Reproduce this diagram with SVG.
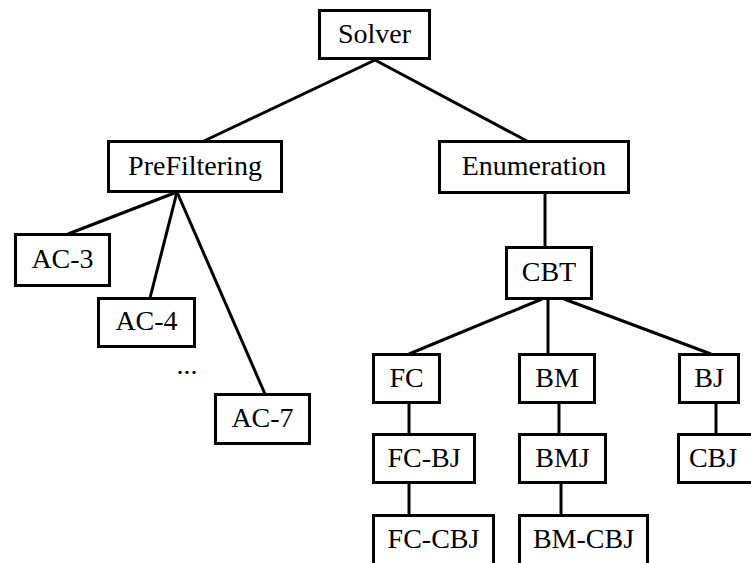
<svg xmlns="http://www.w3.org/2000/svg" width="751" height="563" viewBox="0 0 751 563">
<style>
rect{fill:#fff;stroke:#000;stroke-width:3}
text{font-family:"Liberation Serif","Times New Roman",serif;font-size:28px;fill:#000;text-anchor:middle}
#edges line{stroke:#000;stroke-width:3;stroke-linecap:butt}
</style>
<rect x="0" y="0" width="751" height="563" style="stroke:none"/>
<g id="edges">
<line x1="375" y1="60" x2="204" y2="141"/>
<line x1="375" y1="60" x2="527" y2="141"/>
<line x1="545" y1="193" x2="545" y2="247"/>
<line x1="177" y1="192" x2="68" y2="234"/>
<line x1="177" y1="192" x2="150" y2="298"/>
<line x1="177" y1="192" x2="265" y2="394"/>
<line x1="542" y1="299" x2="409" y2="354"/>
<line x1="548" y1="299" x2="548" y2="354"/>
<line x1="564" y1="299" x2="711" y2="354"/>
<line x1="409" y1="403" x2="409" y2="434"/>
<line x1="409" y1="483" x2="409" y2="515"/>
<line x1="559" y1="403" x2="559" y2="434"/>
<line x1="561" y1="483" x2="561" y2="515"/>
<line x1="716" y1="403" x2="716" y2="434"/>
</g>
<g id="solver"><rect x="319.5" y="10.5" width="110" height="48"/><text x="374.5" y="43">Solver</text></g>
<g id="prefiltering"><rect x="108.5" y="141.5" width="173" height="50"/><text x="195" y="175">PreFiltering</text></g>
<g id="enumeration"><rect x="439.5" y="141.5" width="189" height="51"/><text x="534" y="175">Enumeration</text></g>
<g id="ac3"><rect x="15.5" y="234.5" width="94" height="51"/><text x="62.5" y="268">AC-3</text></g>
<g id="ac4"><rect x="98.5" y="298.5" width="96" height="48"/><text x="146.5" y="330">AC-4</text></g>
<g id="ellipsis"><text x="187" y="374">...</text></g>
<g id="ac7"><rect x="215.5" y="394.5" width="94" height="49"/><text x="262.5" y="427">AC-7</text></g>
<g id="cbt"><rect x="506.5" y="247.5" width="85" height="51"/><text x="549" y="281">CBT</text></g>
<g id="fc"><rect x="373.5" y="354.5" width="66" height="48"/><text x="406.5" y="387">FC</text></g>
<g id="bm"><rect x="519.5" y="354.5" width="75" height="48"/><text x="557" y="387">BM</text></g>
<g id="bj"><rect x="679.5" y="354.5" width="59" height="48"/><text x="709" y="387">BJ</text></g>
<g id="fcbj"><rect x="373.5" y="434.5" width="101" height="48"/><text x="424" y="467">FC-BJ</text></g>
<g id="bmj"><rect x="519.5" y="434.5" width="86" height="48"/><text x="562.5" y="467">BMJ</text></g>
<g id="cbj"><rect x="678.5" y="434.5" width="80" height="48"/><text x="713" y="467">CBJ</text></g>
<g id="fccbj"><rect x="373.5" y="515.5" width="120" height="60"/><text x="433.5" y="548">FC-CBJ</text></g>
<g id="bmcbj"><rect x="519.5" y="515.5" width="128" height="60"/><text x="583.5" y="548">BM-CBJ</text></g>
</svg>
